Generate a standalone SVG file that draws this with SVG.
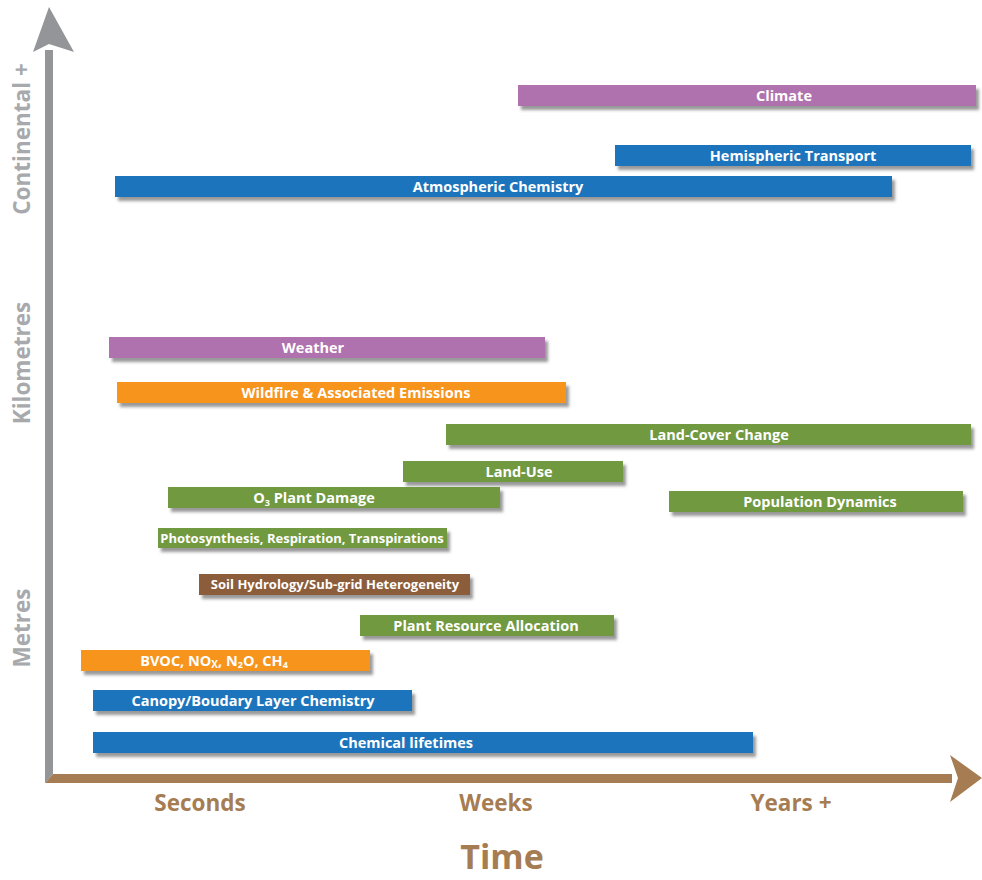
<svg xmlns="http://www.w3.org/2000/svg" width="982" height="880" viewBox="0 0 982 880">
<defs>
<filter id="sh" x="-5%" y="-50%" width="110%" height="200%">
<feDropShadow dx="3" dy="4" stdDeviation="1.8" flood-color="#555" flood-opacity="0.6"/>
</filter>
</defs>
<style>
.bar{filter:url(#sh)}
.purple{fill:#b072ae}
.blue{fill:#1a75bc}
.orange{fill:#f7941d}
.green{fill:#71993f}
.brown{fill:#8b5d3b}
.lbl{font-family:"Open Sans","Noto Sans",sans-serif;font-weight:bold;font-size:14.5px;fill:#fff;text-anchor:middle}
.sm{font-size:13px}
.xl{font-family:"Open Sans","Noto Sans",sans-serif;font-weight:bold;font-size:22.5px;fill:#a67c52;text-anchor:middle}
.yl{font-family:"Open Sans","Noto Sans",sans-serif;font-weight:bold;font-size:22.5px;fill:#a7a9ac;text-anchor:middle}
</style>
<rect width="982" height="880" fill="#fff"/>
<g id="axes">
<polygon points="45,783 45,50 53,50 53,774" fill="#939598"/>
<polygon points="49,7 74,52 49,44 33,52" fill="#939598"/>
<polygon points="45,783 53,774 952,774 952,783" fill="#a67c52"/>
<polygon points="982,778 950,755 958,778 950,802" fill="#a67c52"/>
</g>
<g id="axis-labels">
<text class="xl" x="200" y="811">Seconds</text>
<text class="xl" x="496" y="811">Weeks</text>
<text class="xl" x="791" y="811">Years +</text>
<text class="xl" x="502" y="869" style="font-size:34px">Time</text>
<text class="yl" transform="translate(30,139) rotate(-90)">Continental +</text>
<text class="yl" transform="translate(30,363) rotate(-90)">Kilometres</text>
<text class="yl" transform="translate(30,628) rotate(-90)">Metres</text>
</g>
<g id="climate"><rect class="bar purple" x="518" y="85" width="458" height="21"/><text class="lbl" x="784" y="101">Climate</text></g>
<g id="hemispheric-transport"><rect class="bar blue" x="615" y="145" width="356" height="21"/><text class="lbl" x="793" y="161">Hemispheric Transport</text></g>
<g id="atmospheric-chemistry"><rect class="bar blue" x="115" y="176" width="777" height="21"/><text class="lbl" x="498" y="192">Atmospheric Chemistry</text></g>
<g id="weather"><rect class="bar purple" x="109" y="337" width="436" height="21"/><text class="lbl" x="313" y="353">Weather</text></g>
<g id="wildfire"><rect class="bar orange" x="117" y="382" width="449" height="21"/><text class="lbl" x="356" y="398">Wildfire &amp; Associated Emissions</text></g>
<g id="land-cover-change"><rect class="bar green" x="446" y="424" width="525" height="21"/><text class="lbl" x="719" y="440">Land-Cover Change</text></g>
<g id="land-use"><rect class="bar green" x="403" y="461" width="220" height="21"/><text class="lbl" x="519" y="477">Land-Use</text></g>
<g id="o3-plant-damage"><rect class="bar green" x="168" y="487" width="332" height="21"/><text class="lbl" x="314" y="503">O<tspan font-size="9" dy="3">3</tspan><tspan dy="-3"> Plant Damage</tspan></text></g>
<g id="population-dynamics"><rect class="bar green" x="669" y="491" width="294" height="21"/><text class="lbl" x="820" y="507">Population Dynamics</text></g>
<g id="photosynthesis"><rect class="bar green" x="158" y="528" width="289" height="20"/><text class="lbl sm" x="302" y="543">Photosynthesis, Respiration, Transpirations</text></g>
<g id="soil-hydrology"><rect class="bar brown" x="199" y="574" width="271" height="21"/><text class="lbl sm" x="335" y="589">Soil Hydrology/Sub-grid Heterogeneity</text></g>
<g id="plant-resource-allocation"><rect class="bar green" x="360" y="615" width="254" height="21"/><text class="lbl" x="486" y="631">Plant Resource Allocation</text></g>
<g id="emissions"><rect class="bar orange" x="81" y="650" width="289" height="21"/><text class="lbl" x="214" y="666">BVOC, NO<tspan font-size="10" dy="2">X</tspan><tspan dy="-2">, N</tspan><tspan font-size="9" dy="2">2</tspan><tspan dy="-2">O, CH</tspan><tspan font-size="9" dy="2">4</tspan></text></g>
<g id="canopy-chemistry"><rect class="bar blue" x="93" y="690" width="319" height="21"/><text class="lbl" x="253" y="706">Canopy/Boudary Layer Chemistry</text></g>
<g id="chemical-lifetimes"><rect class="bar blue" x="93" y="732" width="660" height="21"/><text class="lbl" x="406" y="748">Chemical lifetimes</text></g>
</svg>
